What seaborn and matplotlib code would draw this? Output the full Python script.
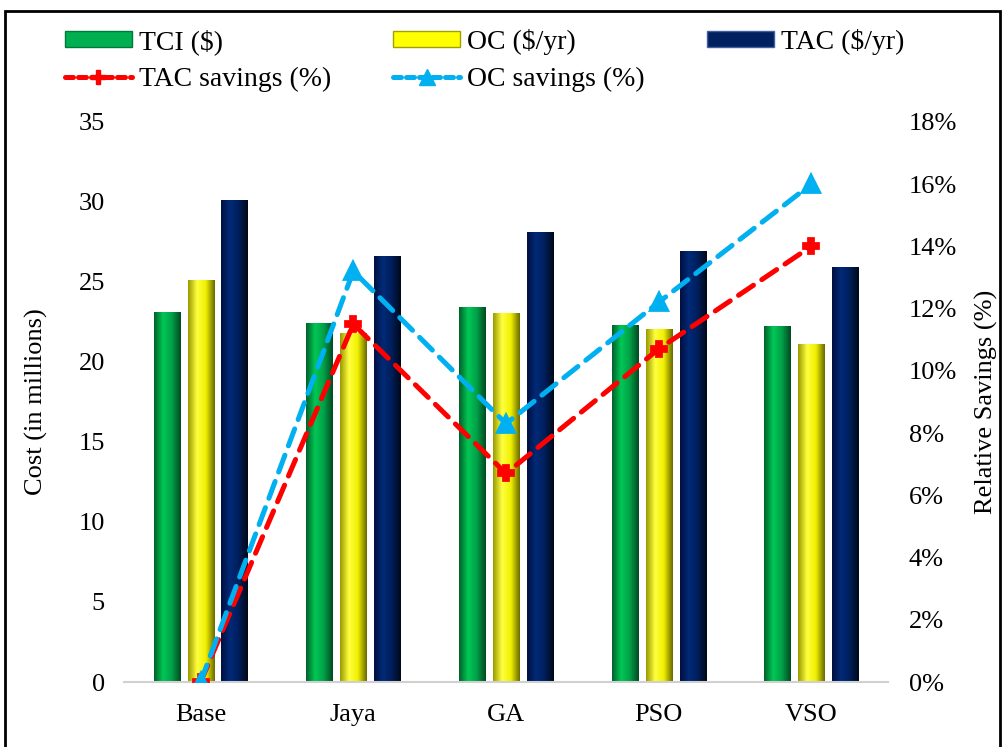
import numpy as np
import pandas as pd
import matplotlib
matplotlib.use("Agg")
import matplotlib.pyplot as plt
import seaborn as sns
from matplotlib.colors import LinearSegmentedColormap
from matplotlib.patches import Patch, Rectangle
from matplotlib.lines import Line2D
from matplotlib.ticker import PercentFormatter, FixedLocator

categories = ["Base", "Jaya", "GA", "PSO", "VSO"]
tci = [23.1, 22.4, 23.4, 22.3, 22.2]
oc = [25.1, 21.8, 23.0, 22.0, 21.1]
tac = [30.1, 26.6, 28.1, 26.9, 25.9]
tac_savings = [0.0, 11.5, 6.7, 10.7, 14.0]
oc_savings = [0.0, 13.2, 8.3, 12.2, 16.0]
series_names = ["TCI ($)", "OC ($/yr)", "TAC ($/yr)"]

sns.set_theme(style="white")
plt.rcParams["font.family"] = ["Liberation Serif", "DejaVu Serif"]
plt.rcParams["text.color"] = "black"
plt.rcParams["axes.labelcolor"] = "black"
plt.rcParams["xtick.color"] = "black"
plt.rcParams["ytick.color"] = "black"

FS = 19

df = pd.DataFrame({
    "cat": categories * 3,
    "val": tci + oc + tac,
    "series": [series_names[0]] * 5 + [series_names[1]] * 5 + [series_names[2]] * 5,
})

mid_colors = {"TCI ($)": "#00B050", "OC ($/yr)": "#FFFF00", "TAC ($/yr)": "#002060"}
grad_colors = {
    "TCI ($)": ["#00602a", "#00c855", "#00a048", "#004a20"],
    "OC ($/yr)": ["#9a9a00", "#ffff40", "#f0f000", "#6a6a00"],
    "TAC ($/yr)": ["#001040", "#002a78", "#001e5a", "#000818"],
}

fig = plt.figure(figsize=(10.02, 7.47), dpi=100)
ax = fig.add_axes([0.124, 0.087, 0.762, 0.750])

sns.barplot(data=df, x="cat", y="val", hue="series", order=categories,
            hue_order=series_names, palette=mid_colors, width=0.667, gap=0.23,
            legend=False, ax=ax, edgecolor="none", saturation=1)

# cylindrical gradient on each bar
patches = [p for p in ax.patches]
for i, p in enumerate(patches):
    s = series_names[i // len(categories)]
    cmap = LinearSegmentedColormap.from_list(s, grad_colors[s])
    x0, y0, w, h = p.get_x(), p.get_y(), p.get_width(), p.get_height()
    grad = np.linspace(0, 1, 64).reshape(1, -1)
    ax.imshow(grad, extent=[x0, x0 + w, y0, y0 + h], aspect="auto",
              cmap=cmap, zorder=p.get_zorder() + 0.1, interpolation="bicubic")

ax.set_xlim(-0.5, 4.5)
ax.set_ylim(0, 35)
ax.set_yticks(np.arange(0, 36, 5))
ax.set_xlabel("")
ax.set_ylabel("Cost (in millions)", fontsize=FS, labelpad=22, color="black")
for sp in ["top", "left", "right"]:
    ax.spines[sp].set_visible(False)
ax.spines["bottom"].set_color("#d0d0d0")
ax.spines["bottom"].set_linewidth(1.5)
ax.tick_params(axis="x", which="major", length=0, labelsize=FS, pad=16, labelcolor="black")
ax.xaxis.set_minor_locator(FixedLocator(np.arange(-0.5, 5, 1)))
ax.tick_params(axis="x", which="minor", length=7, width=1.5, color="#d0d0d0", direction="out")
ax.tick_params(axis="y", length=0, labelsize=FS, pad=14, labelcolor="black")

ax2 = ax.twinx()
sns.pointplot(x=categories, y=tac_savings, order=categories, ax=ax2, color="#FF0000",
              marker="P", markersize=10, linestyle="--", linewidth=3.6)
sns.pointplot(x=categories, y=oc_savings, order=categories, ax=ax2, color="#00B0F0",
              marker="^", markersize=11, linestyle="--", linewidth=3.6)
for ln in ax2.lines:
    ln.set_dashes([3.6, 2.0])
    ln.set_dash_capstyle("round")
ax2.set_ylim(0, 18)
ax2.set_yticks(np.arange(0, 19, 2))
ax2.yaxis.set_major_formatter(PercentFormatter(decimals=0))
ax2.set_ylabel("Relative Savings (%)", fontsize=FS, labelpad=13, color="black")
for sp in ["top", "left", "right", "bottom"]:
    ax2.spines[sp].set_visible(False)
ax2.tick_params(axis="y", length=0, labelsize=FS, pad=15, labelcolor="black")
ax2.set_xlim(-0.5, 4.5)
ax2.grid(False)
ax.grid(False)

handles = [
    Patch(facecolor=mid_colors[series_names[0]], edgecolor="#007a38"),
    Line2D([], [], color="#FF0000", linestyle="--", dashes=[1.6, 1.0], linewidth=3.6,
           dash_capstyle="round", marker="P", markersize=10),
    Patch(facecolor=mid_colors[series_names[1]], edgecolor="#a0a000"),
    Line2D([], [], color="#00B0F0", linestyle="--", dashes=[1.6, 1.0], linewidth=3.6,
           dash_capstyle="round", marker="^", markersize=11),
    Patch(facecolor=mid_colors[series_names[2]], edgecolor="#4060a0"),
]
labels = ["TCI ($)", "TAC savings (%)", "OC ($/yr)", "OC savings (%)", "TAC ($/yr)"]
fig.legend(handles, labels, loc="upper left", bbox_to_anchor=(0.04, 0.995), ncol=3,
           frameon=False, fontsize=20, handlelength=2.4, handleheight=0.55,
           handletextpad=0.25, columnspacing=2.25, labelspacing=0.45, labelcolor="black")

fig.add_artist(Rectangle((0.005, -0.01), 0.993, 0.995, transform=fig.transFigure,
                         fill=False, edgecolor="black", linewidth=2))

fig.savefig("out.png", dpi=100)
